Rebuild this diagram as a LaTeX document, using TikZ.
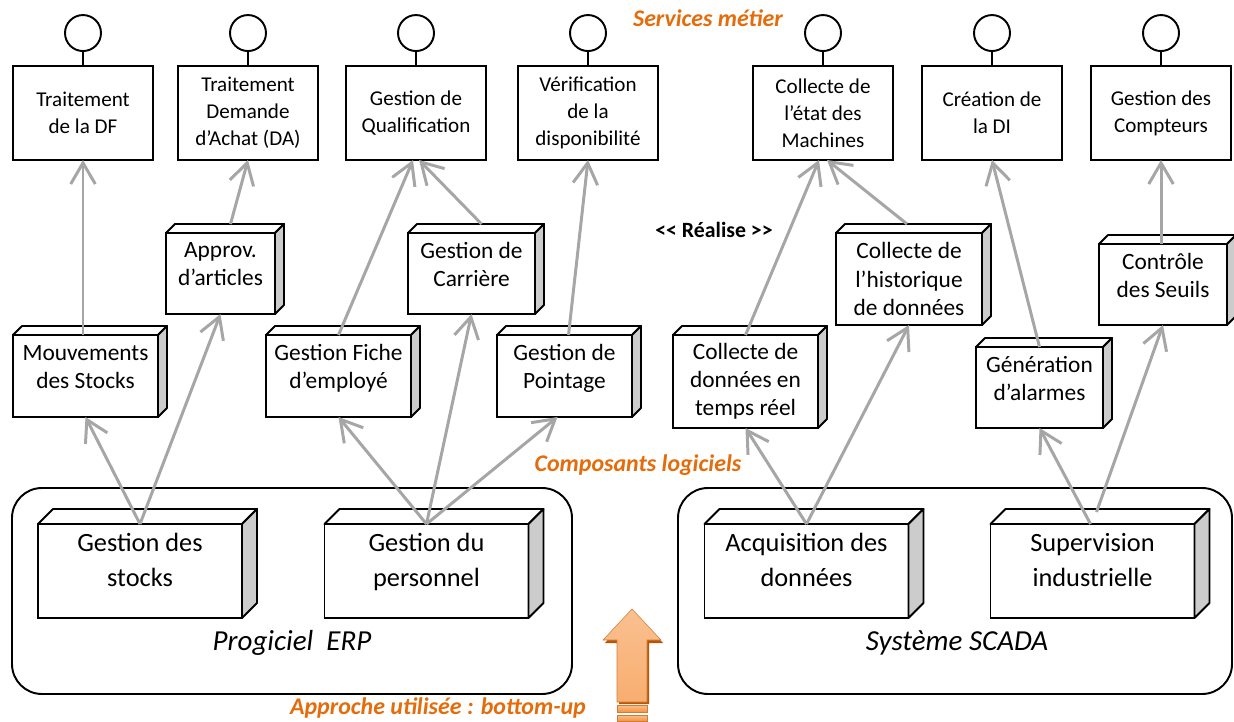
\documentclass[tikz,border=0pt]{standalone}
\usepackage{fontspec}
\setmainfont{Carlito}
\usetikzlibrary{positioning,calc,arrows.meta}

\definecolor{orangetxt}{RGB}{228,108,10}
\definecolor{flecheclair}{RGB}{250,192,144}
\definecolor{flechefonce}{RGB}{245,146,62}
\definecolor{flecheombre}{RGB}{182,87,8}

\newcommand{\relief}[2]{%
  \draw[line width=1.1pt,fill=white,line join=round] (#1.north west) -- ++(#2,#2) -- ($(#1.north east)+(#2,#2)$) -- (#1.north east) -- cycle;
  \draw[line width=1.1pt,fill=black!20,line join=round] (#1.north east) -- ++(#2,#2) -- ($(#1.south east)+(#2,#2)$) -- (#1.south east) -- cycle;
}

\tikzset{
  service/.style={draw,line width=1.1pt,fill=white,outer sep=0pt,minimum width=2.8cm,minimum height=1.88cm,
    align=center,font=\fontsize{12}{15.3}\selectfont},
  iface/.style={draw,line width=1.1pt,circle,minimum size=0.72cm,inner sep=0pt},
  comp/.style={draw,line width=1.1pt,fill=white,outer sep=0pt,align=center,
    font=\fontsize{13.3}{16}\selectfont},
  haut/.style={text depth=0.37cm},
  bigcomp/.style={comp,minimum width=4.08cm,minimum height=1.88cm,text depth=0.44cm,
    font=\fontsize{15}{19.8}\selectfont},
  realise/.style={draw=black!35,line width=1.7pt,-{Straight Barb[length=12pt,width=14pt]}},
  groupe/.style={draw,line width=1.1pt,rounded corners=0.6cm},
  grouptxt/.style={font=\fontsize{16.5}{19}\selectfont\itshape},
  titre/.style={text=orangetxt,font=\fontsize{13.6}{16}\selectfont\bfseries\itshape},
}

\begin{document}
\begin{tikzpicture}[x=0.02cm,y=0.02cm]
  \useasboundingbox (0,0) rectangle (1234,-722);

  \draw[groupe] (12,-488) rectangle (572,-694);
  \draw[groupe] (678,-488) rectangle (1232,-694);
  \node[grouptxt] (erp) at (292,-643) {Progiciel\ \ ERP};
  \node[grouptxt] (scada) at (957,-643) {Système SCADA};

  \node[service] (s1) at (83,-113) {Traitement\\de la DF};
  \node[service] (s2) at (248,-113) {Traitement\\Demande\\d’Achat (DA)};
  \node[service] (s3) at (416,-113) {Gestion de\\Qualification};
  \node[service] (s4) at (588,-113) {Vérification\\de la\\disponibilité};
  \node[service] (s5) at (823,-113) {Collecte de\\l’état des\\Machines};
  \node[service] (s6) at (992,-113) {Création de\\la DI};
  \node[service] (s7) at (1161,-113) {Gestion des\\Compteurs};
  \foreach \s in {s1,s2,s3,s4,s5,s6,s7} {
    \node[iface,above=0.28cm of \s] (\s-i) {};
    \draw[line width=1.1pt] (\s-i) -- (\s);
  }

  \node[comp,haut,minimum width=2.9cm,minimum height=1.64cm] (mvt) at (85.5,-376) {Mouvements\\des Stocks};
  \node[comp,haut,minimum width=2.18cm,minimum height=1.62cm] (appro) at (220.5,-273.5) {Approv.\\d’articles};
  \node[comp,haut,minimum width=2.9cm,minimum height=1.64cm] (fiche) at (338.5,-376) {Gestion Fiche\\d’employé};
  \node[comp,haut,minimum width=2.54cm,minimum height=1.62cm] (carriere) at (471.5,-273.5) {Gestion de\\Carrière};
  \node[comp,haut,minimum width=2.7cm,minimum height=1.64cm] (pointage) at (564.5,-376) {Gestion de\\Pointage};
  \node[comp,minimum width=2.9cm,minimum height=1.86cm] (tempsreel) at (745.5,-381.5) {Collecte de\\données en\\temps réel};
  \node[comp,minimum width=2.92cm,minimum height=1.84cm] (historique) at (909,-279) {Collecte de\\l’historique\\de données};
  \node[comp,haut,minimum width=2.54cm,minimum height=1.62cm] (alarmes) at (1039.5,-387.5) {Génération\\d’alarmes};
  \node[comp,haut,minimum width=2.56cm,minimum height=1.62cm] (seuils) at (1163,-284.5) {Contrôle\\des Seuils};

  \node[bigcomp] (stocks) at (140,-571) {Gestion des\\stocks};
  \node[bigcomp] (personnel) at (426.5,-571) {Gestion du\\personnel};
  \node[bigcomp] (acquisition) at (806.5,-571) {Acquisition des\\données};
  \node[bigcomp] (supervision) at (1092.5,-571) {Supervision\\industrielle};

  \foreach \n/\d in {mvt/9,appro/9,fiche/9,carriere/9,pointage/9,tempsreel/9,historique/9,alarmes/9,seuils/9,
    stocks/15,personnel/15,acquisition/15,supervision/15}
    \relief{\n}{\d};

  \draw[realise] (s1.south |- mvt.north) -- (s1.south);
  \draw[realise] ($(appro.north)+(10,9)$) -- (s2.south);
  \draw[realise] (fiche.north) -- ($(s3.south)+(-3,0)$);
  \draw[realise] ($(carriere.north)+(10,9)$) -- ($(s3.south)+(3,0)$);
  \draw[realise] ($(pointage.north)+(4,0)$) -- (s4.south);
  \draw[realise] (tempsreel.north) -- ($(s5.south)+(-4,0)$);
  \draw[realise] ($(historique.north)+(-2,9)$) -- ($(s5.south)+(4,0)$);
  \draw[realise] (alarmes.north) -- (s6.south);
  \draw[realise] (s7.south |- seuils.north) -- (s7.south);

  \draw[realise] (stocks.north) -- (mvt.south);
  \draw[realise] (stocks.north) -- (appro.south);
  \draw[realise] (personnel.north) -- (fiche.south);
  \draw[realise] (personnel.north) -- (carriere.south);
  \draw[realise] (personnel.north) -- ($(pointage.south)+(-7,0)$);
  \draw[realise] (acquisition.north) -- (tempsreel.south);
  \draw[realise] (acquisition.north) -- (historique.south);
  \draw[realise] ($(supervision.north)+(-2,0)$) -- (alarmes.south);
  \draw[realise] ($(supervision.north)+(4,12)$) -- (seuils.south);

  \node[titre] (metier) at (708,-18) {Services métier};
  \node[titre] (logiciels) at (638,-465) {Composants logiciels};
  \node[titre,anchor=east] (approche) at (592,-708) {Approche utilisée : bottom-up};
  \node[font=\fontsize{12.4}{14}\selectfont\bfseries] (realisetxt) at (714,-230) {<{}< Réalise >{}>};

  \fill[flecheombre] (633,-611) -- (663,-643) -- (649,-643) -- (649,-704) -- (619,-704) -- (619,-643) -- (605,-643) -- cycle;
  \shade[top color=flecheclair,middle color=flechefonce,bottom color=flecheclair!60!flechefonce,
    draw=flechefonce!85!black,line width=0.3pt]
    (632,-609) -- (661,-640) -- (647,-640) -- (647,-702) -- (617,-702) -- (617,-640) -- (603,-640) -- cycle;
  \shade[top color=flecheclair,bottom color=flechefonce,draw=flechefonce!85!black,line width=0.3pt]
    (617,-705) rectangle (647,-712);
  \shade[top color=flecheclair,bottom color=flechefonce,draw=flechefonce!85!black,line width=0.3pt]
    (617,-715) rectangle (647,-721);
\end{tikzpicture}
\end{document}
